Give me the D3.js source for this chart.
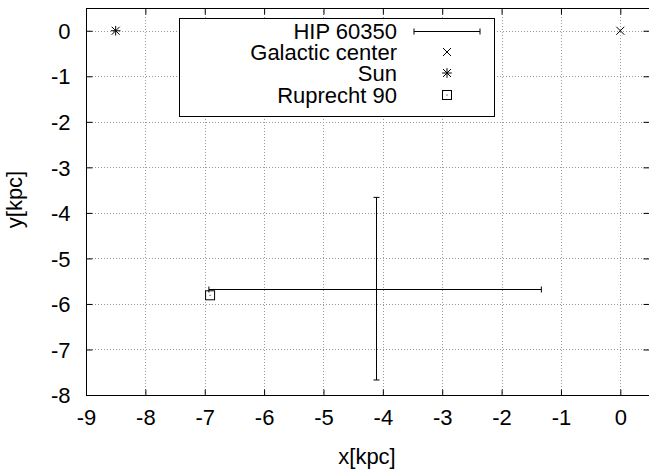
<!DOCTYPE html>
<html>
<head>
<meta charset="utf-8">
<script src="https://cdn.jsdelivr.net/npm/d3@7"></script>
<style>
  body { margin: 0; background: #fff; }
  text { font-family: "Liberation Sans", Arial, sans-serif; fill: #000; }
</style>
</head>
<body>
<div id="chart"></div>
<script>
let W = 649, H = 470;
let margin = { left: 86, right: -1, top: 8, bottom: 75 };

// data
let xTicks = [-9, -8, -7, -6, -5, -4, -3, -2, -1, 0];
let yTicks = [0, -1, -2, -3, -4, -5, -6, -7, -8];
let hip = { x: -4.12, y: -5.67, xlow: -6.93, xhigh: -1.33, ylow: -7.67, yhigh: -3.66 };
let galacticCenter = [{ x: 0, y: 0 }];
let sun = [{ x: -8.5, y: 0 }];
let ruprecht = [{ x: -6.91, y: -5.81 }];
let legendLabels = ["HIP 60350", "Galactic center", "Sun", "Ruprecht 90"];

let svg = d3.select('#chart').append('svg')
  .attr('width', W)
  .attr('height', H);

let x = d3.scaleLinear().domain([-9, 0.5]).range([margin.left, W - margin.right]);
let y = d3.scaleLinear().domain([-8, 0.5]).range([H - margin.bottom, margin.top]);

let x0 = x.range()[0], x1 = x.range()[1];
let y0 = y.range()[0], y1 = y.range()[1];

// grid
let grid = svg.append('g').attr('stroke', '#999').attr('stroke-width', 1).attr('stroke-dasharray', '1,2');
grid.selectAll('.gx').data(xTicks).enter().append('line')
  .attr('x1', d => Math.round(x(d)) + 0.5).attr('x2', d => Math.round(x(d)) + 0.5)
  .attr('y1', y1).attr('y2', y0);
grid.selectAll('.gy').data(yTicks).enter().append('line')
  .attr('y1', d => Math.round(y(d)) + 0.5).attr('y2', d => Math.round(y(d)) + 0.5)
  .attr('x1', x0).attr('x2', x1);

// axes (ticks inward, mirrored)
let tk = 6;
let fs = '22px';
let fmt = d => String(d);
let axB = svg.append('g').attr('transform', `translate(0,${y0 + 0.5})`)
  .call(d3.axisBottom(x).tickValues(xTicks).tickSizeInner(-tk).tickSizeOuter(0).tickPadding(14).tickFormat(fmt));
let axT = svg.append('g').attr('transform', `translate(0,${y1 + 0.5})`)
  .call(d3.axisTop(x).tickValues(xTicks).tickSizeInner(-tk).tickSizeOuter(0).tickFormat(''));
let axL = svg.append('g').attr('transform', `translate(${x0 + 0.5},0)`)
  .call(d3.axisLeft(y).tickValues(yTicks).tickSizeInner(-tk).tickSizeOuter(0).tickPadding(16).tickFormat(fmt));
let axR = svg.append('g').attr('transform', `translate(${x1 - 0.5},0)`)
  .call(d3.axisRight(y).tickValues(yTicks).tickSizeInner(-tk).tickSizeOuter(0).tickFormat(''));

[axB, axT, axL, axR].forEach(a => {
  a.select('.domain').remove();
  a.selectAll('text').style('font-size', fs).attr('font-family', null);
  a.selectAll('line').attr('stroke', '#000');
});
axL.selectAll('text').attr('dy', '0.35em');

// border
svg.append('rect')
  .attr('x', x0 + 0.5).attr('y', y1 + 0.5)
  .attr('width', x1 - x0 - 1).attr('height', y0 - y1)
  .attr('fill', 'none').attr('stroke', '#000');

// axis titles
svg.append('text').attr('x', 367).attr('y', 464).attr('text-anchor', 'middle')
  .style('font-size', fs).text('x[kpc]');
svg.append('text').attr('transform', `translate(22,${(y0 + y1) / 2 - 2}) rotate(-90)`)
  .attr('text-anchor', 'middle').style('font-size', fs).text('y[kpc]');

// marker helpers
function crossPath(s) { return `M${-s},${-s}L${s},${s}M${-s},${s}L${s},${-s}`; }
function starPath(s) { return crossPath(s) + `M${-s * 1.2},0L${s * 1.2},0M0,${-s * 1.2}L0,${s * 1.2}`; }
function drawCross(g, cx, cy) { g.append('path').attr('d', crossPath(4)).attr('transform', `translate(${cx},${cy})`).attr('stroke', '#000').attr('fill', 'none'); }
function drawStar(g, cx, cy) { g.append('path').attr('d', starPath(4)).attr('transform', `translate(${cx},${cy})`).attr('stroke', '#000').attr('fill', 'none'); }
function drawBox(g, cx, cy) {
  g.append('rect').attr('x', cx - 4.5).attr('y', cy - 4.5).attr('width', 9).attr('height', 9).attr('fill', 'none').attr('stroke', '#000');
  g.append('rect').attr('x', cx - 0.5).attr('y', cy - 0.5).attr('width', 1).attr('height', 1).attr('fill', '#000');
}
function drawErr(g, xa, xb, cy, cap) {
  g.append('line').attr('x1', xa).attr('x2', xb).attr('y1', cy).attr('y2', cy).attr('stroke', '#000');
  g.append('line').attr('x1', xa).attr('x2', xa).attr('y1', cy - cap).attr('y2', cy + cap).attr('stroke', '#000');
  g.append('line').attr('x1', xb).attr('x2', xb).attr('y1', cy - cap).attr('y2', cy + cap).attr('stroke', '#000');
}

let marks = svg.append('g');
// HIP 60350 with x and y error bars
let hx = Math.round(x(hip.x)) + 0.5, hy = Math.round(y(hip.y)) + 0.5;
drawErr(marks, x(hip.xlow), x(hip.xhigh), hy, 3);
marks.append('line').attr('x1', hx).attr('x2', hx).attr('y1', y(hip.ylow)).attr('y2', y(hip.yhigh)).attr('stroke', '#000');
marks.append('line').attr('x1', hx - 3).attr('x2', hx + 3).attr('y1', y(hip.ylow)).attr('y2', y(hip.ylow)).attr('stroke', '#000');
marks.append('line').attr('x1', hx - 3).attr('x2', hx + 3).attr('y1', y(hip.yhigh)).attr('y2', y(hip.yhigh)).attr('stroke', '#000');

galacticCenter.forEach(d => drawCross(marks, x(d.x), y(d.y)));
sun.forEach(d => drawStar(marks, x(d.x), y(d.y)));
ruprecht.forEach(d => drawBox(marks, x(d.x), y(d.y)));

// legend
let leg = svg.append('g');
leg.append('rect').attr('x', 179.5).attr('y', 18.5).attr('width', 315).attr('height', 98)
  .attr('fill', '#fff').attr('stroke', '#000');
let rowY = [31, 52, 73, 95];
legendLabels.forEach((t, i) => {
  leg.append('text').attr('x', 397).attr('y', rowY[i]).attr('dy', '0.35em')
    .attr('text-anchor', 'end').style('font-size', fs).text(t);
});
let sx = 447;
drawErr(leg, sx - 33, sx + 33, rowY[0] + 0.5, 3);
drawCross(leg, sx, rowY[1]);
drawStar(leg, sx, rowY[2]);
drawBox(leg, sx, rowY[3]);
</script>
</body>
</html>
